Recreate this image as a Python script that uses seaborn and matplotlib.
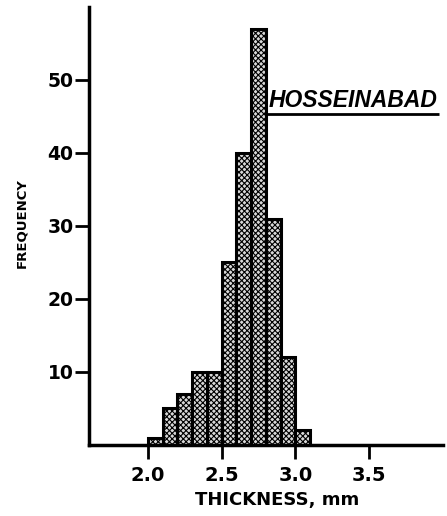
import matplotlib
matplotlib.use("Agg")
import matplotlib.pyplot as plt
import seaborn as sns
import numpy as np
import pandas as pd

# Shell thickness classes (left edge of each 0.1 mm bin) and their counts
bin_left = [2.0, 2.1, 2.2, 2.3, 2.4, 2.5, 2.6, 2.7, 2.8, 2.9, 3.0]
counts = [1, 5, 7, 10, 10, 25, 40, 57, 31, 12, 2]
bin_width = 0.1

x_ticks = [2.0, 2.5, 3.0, 3.5]
x_tick_labels = ["2.0", "2.5", "3.0", "3.5"]
y_ticks = [10, 20, 30, 40, 50]
y_tick_labels = ["10", "20", "30", "40", "50"]
site_label = "HOSSEINABAD"

sns.set_theme(style="white")
plt.rcParams["font.family"] = ["DejaVu Sans"]
plt.rcParams["text.color"] = "black"
plt.rcParams["axes.labelcolor"] = "black"
plt.rcParams["hatch.linewidth"] = 0.8

# each class is represented by its midpoint, weighted by its count
df = pd.DataFrame({"thickness": np.array(bin_left) + bin_width / 2,
                   "count": counts})

fig = plt.figure(figsize=(4.47, 5.16), dpi=100)
ax = fig.add_axes([0.199, 0.1376, 0.792, 0.849])

sns.histplot(data=df, x="thickness", weights="count",
             binwidth=bin_width,
             binrange=(bin_left[0], bin_left[-1] + bin_width),
             color="#d8d8d8", edgecolor="black", linewidth=2.2,
             alpha=1.0, ax=ax)
for patch in ax.patches:
    patch.set_hatch("xxxxxx")

ax.set_xlim(1.6, 4.0)
ax.set_ylim(0, 60)

ax.set_xticks(x_ticks)
ax.set_xticklabels(x_tick_labels, fontsize=14, fontweight="bold")
ax.set_yticks(y_ticks)
ax.set_yticklabels(y_tick_labels, fontsize=13.5, fontweight="bold")
ax.tick_params(axis="both", direction="out", length=10, width=2,
               color="black", labelcolor="black")
ax.tick_params(axis="x", bottom=True, pad=5)
ax.tick_params(axis="y", left=True, pad=1)

for side in ["top", "right"]:
    ax.spines[side].set_visible(False)
for side in ["left", "bottom"]:
    ax.spines[side].set_linewidth(2.5)
    ax.spines[side].set_color("black")

ax.set_xlabel("THICKNESS, mm", fontsize=13, fontweight="bold", va="top")
ax.xaxis.set_label_coords(0.532, -0.105)
ax.set_ylabel("FREQUENCY", fontsize=9.5, fontweight="bold", va="center")
ax.yaxis.set_label_coords(-0.189, 0.507)
ax.grid(False)

# Site name, underlined, next to the modal class
ax.text(2.82, 46.3, site_label, fontsize=16.5, fontweight="bold",
        fontstyle="italic", family=["Liberation Sans"], ha="left",
        va="baseline", color="black")
ax.plot([2.8, 3.97], [45.3, 45.3], color="black", linewidth=2,
        solid_capstyle="butt")

fig.savefig("out.png", dpi=100, facecolor="white")
